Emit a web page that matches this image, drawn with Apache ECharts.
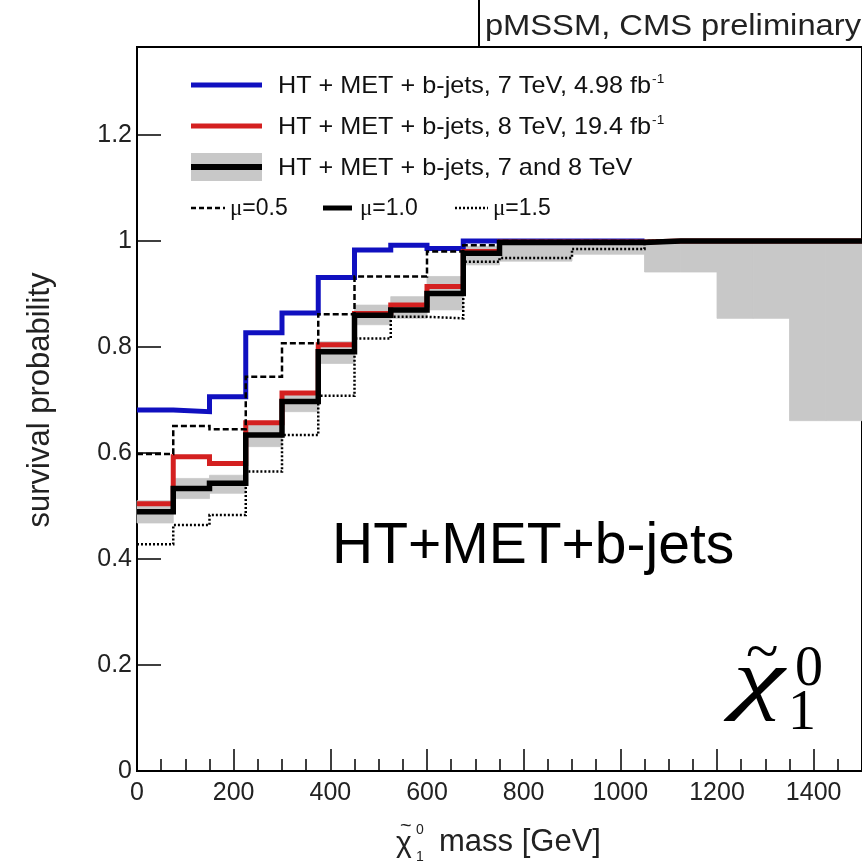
<!DOCTYPE html>
<html><head><meta charset="utf-8">
<script src="https://cdn.jsdelivr.net/npm/echarts@6/dist/echarts.min.js"></script>
<style>html,body{margin:0;padding:0;background:#fff}#c{width:862px;height:867px}</style>
</head><body><div id="c"></div>
<script>
// bin edges in GeV
const binEdges = [0,75,150,225,300,375,450,525,600,675,750,825,900,975,1050,1125,1200,1275,1350,1425,1500];
// survival probability per bin
const blue7TeV   = [0.681,0.678,0.706,0.827,0.864,0.931,0.983,0.992,0.986,1.0,1.0,1.0,1.0,1.0];
const red8TeV    = [0.504,0.593,0.580,0.657,0.713,0.804,0.863,0.879,0.914,0.980,0.998,0.998,0.998,0.998,1,1,1,1,1,1];
const combMu10   = [0.489,0.533,0.543,0.634,0.697,0.791,0.860,0.870,0.901,0.977,0.997,0.997,0.997,0.997,1,1,1,1,1,1];
const combMu05   = [0.598,0.651,0.645,0.744,0.807,0.862,0.933,0.933,0.980,0.992,1,1,1,1,1,1,1,1,1,1];
const combMu15   = [0.428,0.464,0.483,0.565,0.634,0.708,0.816,0.857,0.854,0.961,0.968,0.968,0.985,0.985,1,1,1,1,1,1];
const bandLow    = [0.468,0.514,0.524,0.612,0.678,0.769,0.842,0.854,0.870,0.955,0.962,0.962,0.975,0.975,0.9415,0.9415,0.854,0.854,0.661,0.661];
const bandHigh   = [0.510,0.552,0.558,0.655,0.715,0.810,0.879,0.895,0.933,0.990,1,1,1,1,1,1,1,1,1,1];
const xTickInterval = 200;
const xMinorInterval = 50;
const yTickInterval = 0.2;

function histPoints(vals){
  const pts = vals.map((v,i)=>[binEdges[i], v]);
  pts.push([binEdges[vals.length], vals[vals.length-1]]);
  return pts;
}
const bandData = bandLow.map((lo,i)=>[binEdges[i], binEdges[i+1], lo, bandHigh[i]]);

const SANS = 'Liberation Sans';
const SERIF = 'Liberation Serif';
const chart = echarts.init(document.getElementById('c'), null, {renderer:'canvas'});

function stepLine(name, vals, color, width, type, z){
  return {
    name, type:'line', step:'end', data:histPoints(vals), symbol:'none',
    xAxisIndex:0, yAxisIndex:0,
    lineStyle:{color, width, type: type||'solid', cap:'butt', join:'miter'},
    itemStyle:{color}, z: z||2, silent:true
  };
}

function txt(x,y,text,size,opts){
  opts = opts||{};
  return {type:'text', x, y, scaleX: opts.scaleX||1, rotation: opts.rotation||0, z:100,
    style:{text, fontSize:size, fontFamily: opts.family||SANS, fontStyle: opts.style||'normal',
      fill: opts.color||'#111', align: opts.align||'left', verticalAlign: opts.va||'middle',
      rich: opts.rich}};
}
function seg(x1,y1,x2,y2,color,w,dash){
  return {type:'line', shape:{x1,y1,x2,y2}, z:100,
    style:{stroke:color, lineWidth:w, lineDash: dash||null}};
}

const legendRich = {sup:{fontSize:13, verticalAlign:'top', fontFamily:SANS, fill:'#111', padding:[0,0,14,1]}};
const muRich = {mu:{fontSize:23, fontFamily:SERIF, fill:'#111'}};

const graphics = [
  // title box edge and title
  seg(479,0,479,47,'#000',2),
  txt(861,26.5,'pMSSM, CMS preliminary',30,{align:'right',scaleX:1.09,color:'#222'}),
  // legend
  seg(191,85,262,85,'#1010c0',5),
  txt(278,86,'HT + MET + b-jets, 7 TeV, 4.98 fb{sup|-1}',24,{scaleX:1.05,rich:legendRich}),
  seg(191,126,262,126,'#d42020',5),
  txt(278,127,'HT + MET + b-jets, 8 TeV, 19.4 fb{sup|-1}',24,{scaleX:1.05,rich:legendRich}),
  {type:'rect', shape:{x:191,y:153,width:71,height:28}, style:{fill:'#c8c8c8'}, z:99},
  seg(191,167,262,167,'#000',6),
  txt(278,168,'HT + MET + b-jets, 7 and 8 TeV',24,{scaleX:1.05}),
  seg(191,208,225,208,'#000',2.5,[5,3]),
  txt(230,209,'{mu|μ}=0.5',23,{rich:muRich}),
  seg(323,208,352,208,'#000',5),
  txt(360,209,'{mu|μ}=1.0',23,{rich:muRich}),
  seg(455,208,488,208,'#000',2.5,[2,2]),
  txt(493,209,'{mu|μ}=1.5',23,{rich:muRich}),
  // big label
  txt(332,547.5,'HT+MET+b-jets',57,{color:'#000'}),
  // neutralino symbol
  txt(733,683,'χ',78,{family:SERIF,style:'italic',color:'#000',scaleX:1.5}),
  txt(746,655,'~',60,{family:SERIF,color:'#000'}),
  txt(795,670,'0',56,{family:SERIF,color:'#000'}),
  txt(788,714,'1',56,{family:SERIF,color:'#000'}),
  // x axis title
  txt(396,844,'χ',30,{family:SANS,color:'#222'}),
  txt(400,826,'~',20,{family:SANS,color:'#222'}),
  txt(416,830,'0',14,{family:SANS,color:'#222'}),
  txt(416,857,'1',14,{family:SANS,color:'#222'}),
  txt(439,842,'mass [GeV]',31,{color:'#222'}),
  // y axis title
  txt(40,400,'survival probability',31,{align:'center',rotation:Math.PI/2,color:'#222'})
];

chart.setOption({
  animation:false,
  backgroundColor:'#fff',
  grid:{left:137, top:47, width:731, height:724, show:true, borderColor:'#000', borderWidth:2, containLabel:false},
  xAxis:[{type:'value', min:0, max:1500, interval:xTickInterval, position:'bottom',
    axisLine:{show:true, onZero:false, lineStyle:{color:'#000', width:2}},
    axisTick:{show:true, inside:true, length:22, lineStyle:{color:'#000', width:1.5}},
    axisLabel:{fontSize:25, fontFamily:SANS, color:'#222', margin:10, showMaxLabel:false, formatter:v=>String(v)},
    splitLine:{show:false}},
   {type:'value', min:0, max:1500, interval:xMinorInterval, position:'bottom', offset:0,
    axisLine:{show:false, onZero:false},
    axisTick:{show:true, inside:true, length:12, lineStyle:{color:'#000', width:1.5}},
    axisLabel:{show:false}, splitLine:{show:false}}],
  yAxis:{type:'value', min:0, max:1.366, interval:yTickInterval,
    axisLine:{show:true, onZero:false, lineStyle:{color:'#000', width:2}},
    axisTick:{show:true, inside:true, length:24, lineStyle:{color:'#000', width:1.5}},
    axisLabel:{fontSize:25, fontFamily:SANS, color:'#222', margin:5, showMaxLabel:false},
    splitLine:{show:false}},
  series:[
    {name:'band', type:'custom', xAxisIndex:0, yAxisIndex:0, data:bandData, silent:true, z:1,
      encode:{x:[0,1], y:[2,3]},
      renderItem:(params, api)=>{
        const p0 = api.coord([api.value(0), api.value(3)]);
        const p1 = api.coord([api.value(1), api.value(2)]);
        return {type:'rect', shape:{x:p0[0], y:p0[1], width:p1[0]-p0[0], height:p1[1]-p0[1]},
          style:{fill:'#c8c8c8', stroke:'#c8c8c8', lineWidth:0.8}};
      }},
    stepLine('7 TeV', blue7TeV, '#1010c0', 5),
    stepLine('8 TeV', red8TeV, '#d42020', 5),
    stepLine('mu=1.0', combMu10, '#000', 5.5),
    stepLine('mu=0.5', combMu05, '#000', 2.5, [6,3]),
    stepLine('mu=1.5', combMu15, '#000', 2.5, [2,2])
  ],
  graphic: graphics
});
</script></body></html>
